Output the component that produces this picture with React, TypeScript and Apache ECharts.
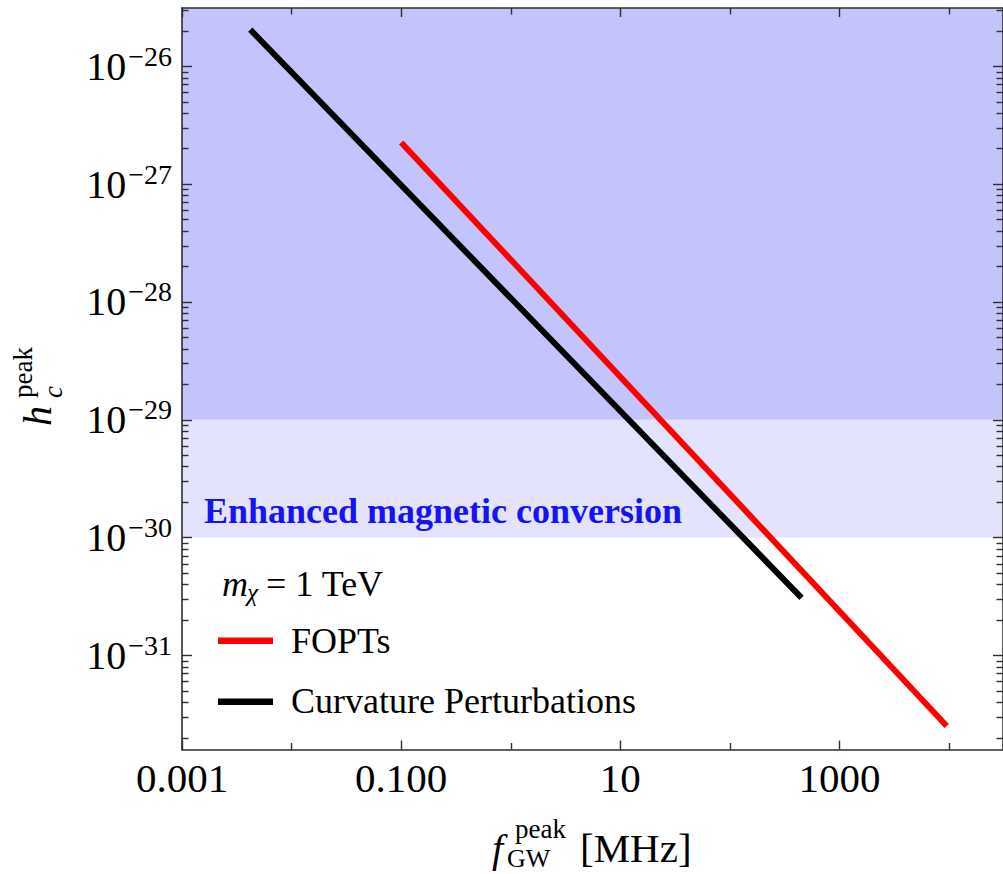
import React, { useEffect, useRef } from "react";
import * as echarts from "echarts";

// ---- data (real units) ----
const X_TICK_VALUES = [0.001, 0.1, 10, 1000];
const X_TICK_LABELS = ["0.001", "0.100", "10", "1000"];
const X_MINOR_VALUES = [0.01, 1, 100, 10000];
const Y_TICK_EXPONENTS = [-31, -30, -29, -28, -27, -26];
const X_RANGE = [0.001, 31000];
const Y_RANGE = [1.59e-32, 3.13e-26];
const BAND_STRONG = [1e-29, 3.13e-26];
const BAND_ENHANCED = [1e-30, 1e-29];

const FOPT_F = [0.1, 9500];
const FOPT_H = [2.26e-27, 2.52e-32];
const CURV_F = [0.0042, 450];
const CURV_H = [2.05e-26, 3.08e-31];

const lg = Math.log10;
const SERIF = '"Liberation Serif", "Times New Roman", serif';
const AXIS_COLOR = "#2e2e2e";
const MINOR_SCALE = 1000; // minor-tick axes use 1/1000 decade units (integer tick values)

function minorY(): number[] {
  const out: number[] = [];
  for (let e = -33; e <= -26; e++) {
    for (let k = 2; k <= 9; k++) {
      const v = lg(k) + e;
      if (v > lg(Y_RANGE[0]) && v < lg(Y_RANGE[1])) out.push(Math.round(v * MINOR_SCALE));
    }
  }
  return out;
}

export default function App() {
  const ref = useRef<HTMLDivElement>(null);
  useEffect(() => {
    if (!ref.current) return;
    const chart = echarts.init(ref.current, undefined, { renderer: "svg" });
    const xMin = lg(X_RANGE[0]);
    const xMax = lg(X_RANGE[1]);
    const yMin = lg(Y_RANGE[0]);
    const yMax = lg(Y_RANGE[1]);
    const xMajor = X_TICK_VALUES.map(lg);
    const xMinor = X_MINOR_VALUES.map(lg);
    const yMinor = minorY();

    const baseX = (pos: "top" | "bottom", ticks: number[], len: number, line: boolean, labels: boolean) => ({
      type: "value",
      gridIndex: 0,
      position: pos,
      z: 10,
      min: xMin,
      max: xMax,
      splitLine: { show: false },
      axisLine: { show: line, onZero: false, lineStyle: { color: AXIS_COLOR, width: 1.6 } },
      axisTick: { show: true, inside: true, length: len, customValues: ticks, lineStyle: { color: AXIS_COLOR, width: 1.4 } },
      axisLabel: labels
        ? {
            show: true,
            customValues: xMajor,
            margin: 8,
            fontFamily: SERIF,
            fontSize: 41,
            color: "#000",
            formatter: (v: number) => {
              const i = xMajor.findIndex((t) => Math.abs(t - v) < 1e-6);
              return i >= 0 ? X_TICK_LABELS[i] : "";
            },
          }
        : { show: false },
    });
    const baseY = (pos: "left" | "right", ticks: number[], len: number, line: boolean, labels: boolean, scale = 1) => ({
      type: "value",
      gridIndex: 0,
      position: pos,
      z: 10,
      min: yMin * scale,
      max: yMax * scale,
      splitLine: { show: false },
      axisLine: { show: line, onZero: false, lineStyle: { color: AXIS_COLOR, width: 1.6 } },
      axisTick: { show: true, inside: true, length: len, customValues: ticks, lineStyle: { color: AXIS_COLOR, width: 1.4 } },
      axisLabel: labels
        ? {
            show: true,
            customValues: Y_TICK_EXPONENTS,
            margin: 10,
            formatter: (v: number) => `{b|10}{s|\u2212${Math.round(-v)}}`,
            rich: {
              b: { fontFamily: SERIF, fontSize: 40, lineHeight: 50, color: "#000" },
              s: { fontFamily: SERIF, fontSize: 28, lineHeight: 28, color: "#000", verticalAlign: "bottom", padding: [0, 0, 21, 2] },
            },
          }
        : { show: false },
    });

    const txt = (text: string, x: number, baseline: number, size: number, extra: any = {}) => ({
      type: "text",
      x,
      y: baseline - 0.3375 * size,
      z: 50,
      silent: true,
      style: {
        text,
        fill: extra.fill || "#000",
        font: `${extra.style || "normal"} ${extra.weight || "normal"} ${size}px ${SERIF}`,
        textAlign: "left",
        textVerticalAlign: "middle",
        align: "left",
        verticalAlign: "middle",
      },
    });
    const rtxt = (text: string, baselineX: number, startY: number, size: number, italic = false) => ({
      type: "text",
      x: baselineX - 0.3375 * size,
      y: startY,
      z: 50,
      rotation: Math.PI / 2,
      silent: true,
      style: {
        text,
        fill: "#000",
        font: `${italic ? "italic" : "normal"} normal ${size}px ${SERIF}`,
        textAlign: "left",
        textVerticalAlign: "middle",
        align: "left",
        verticalAlign: "middle",
      },
    });

    chart.setOption({
      animation: false,
      backgroundColor: "#ffffff",
      grid: { left: 182, top: 8, width: 822, height: 741.5, containLabel: false },
      xAxis: [
        baseX("bottom", xMajor, 9, true, true),
        baseX("bottom", xMinor, 6.5, false, false),
        baseX("top", xMajor, 9, true, false),
        baseX("top", xMinor, 6.5, false, false),
      ],
      yAxis: [
        baseY("left", Y_TICK_EXPONENTS, 10, true, true),
        baseY("left", yMinor, 6.5, false, false, MINOR_SCALE),
        baseY("right", Y_TICK_EXPONENTS, 10, true, false),
        baseY("right", yMinor, 6.5, false, false, MINOR_SCALE),
      ],
      series: [
        {
          type: "line",
          name: "bands",
          xAxisIndex: 0,
          yAxisIndex: 0,
          data: [],
          z: 1,
          markArea: {
            silent: true,
            z: 1,
            data: [
              [
                { xAxis: xMin, yAxis: lg(BAND_ENHANCED[0]), itemStyle: { color: "#e3e3fd", opacity: 1, borderWidth: 0 } },
                { xAxis: xMax, yAxis: lg(BAND_ENHANCED[1]) },
              ],
              [
                { xAxis: xMin, yAxis: lg(BAND_STRONG[0]), itemStyle: { color: "#c4c4fd", opacity: 1, borderWidth: 0 } },
                { xAxis: xMax, yAxis: lg(BAND_STRONG[1]) },
              ],
            ],
          },
        },
        {
          type: "line",
          name: "Curvature Perturbations",
          xAxisIndex: 0,
          yAxisIndex: 0,
          z: 3,
          showSymbol: false,
          symbol: "none",
          data: CURV_F.map((f, i) => [lg(f), lg(CURV_H[i])]),
          lineStyle: { color: "#000000", width: 6 },
        },
        {
          type: "line",
          name: "FOPTs",
          xAxisIndex: 0,
          yAxisIndex: 0,
          z: 3,
          showSymbol: false,
          symbol: "none",
          data: FOPT_F.map((f, i) => [lg(f), lg(FOPT_H[i])]),
          lineStyle: { color: "#ff0000", width: 6 },
        },
      ],
      graphic: [
        txt("Enhanced magnetic conversion", 204, 523, 36, { weight: "bold", fill: "#1414f5" }),
        txt("m", 222, 596, 36, { style: "italic" }),
        txt("\u03c7", 247, 601, 25, { style: "italic" }),
        txt("= 1 TeV", 266, 596, 36),
        { type: "line", z: 50, silent: true, shape: { x1: 218, y1: 640.7, x2: 273, y2: 640.7 }, style: { stroke: "#ff0000", lineWidth: 6.5 } },
        txt("FOPTs", 291, 652.7, 36),
        { type: "line", z: 50, silent: true, shape: { x1: 218, y1: 701.7, x2: 273, y2: 701.7 }, style: { stroke: "#000000", lineWidth: 6.5 } },
        txt("Curvature Perturbations", 291, 713.5, 36),
        // x axis name
        txt("f", 492, 862, 40, { style: "italic" }),
        txt("peak", 515, 838, 27),
        txt("GW", 507, 867.5, 26),
        txt("[MHz]", 580, 862, 41),
        // y axis name
        rtxt("h", 51, 426, 40, true),
        rtxt("peak", 32, 398, 27),
        rtxt("c", 62, 398, 27, true),
      ],
    });
    return () => chart.dispose();
  }, []);
  return (
    <div style={{ position: "absolute", left: 0, top: 0, width: 1003, height: 874, overflow: "hidden", background: "#fff" }}>
      <div ref={ref} style={{ width: 1003, height: 874 }} />
    </div>
  );
}
